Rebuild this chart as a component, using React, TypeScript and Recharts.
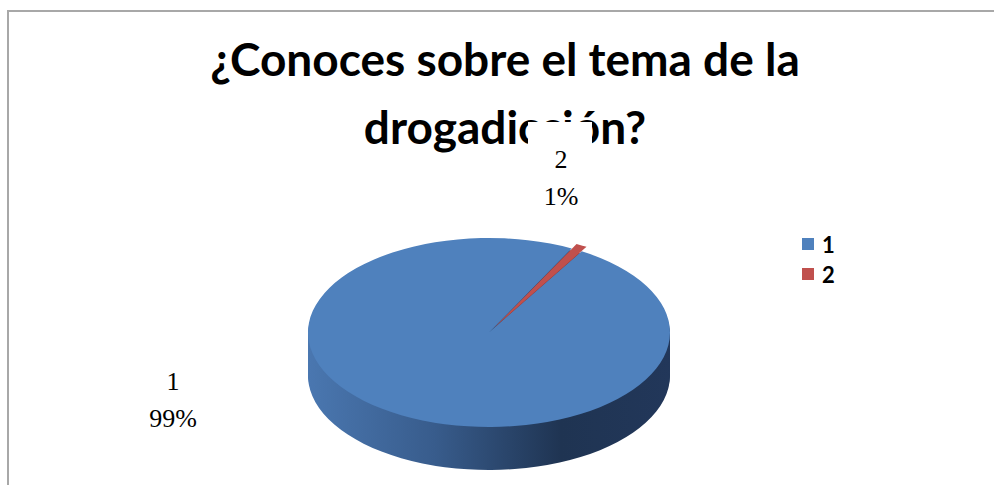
import { PieChart, Pie, Cell, Legend } from "recharts"

const categories = ["1", "2"]
const percentages = [99, 1]
const topColors = ["#4F81BD", "#C0504D"]
const sideColors = ["url(#sideBlue)", "#8C2F2C"]
const titleLines = ["¿Conoces sobre el tema de la", "drogadicción?"]

const data = categories.map((name, i) => ({ name, value: percentages[i] }))

// squashed ellipse geometry (screen px)
const W = 994
const H = 485
const CX = 489
const CY = 332.5
const RX = 181
const RY = 94.5
const DEPTH = 43
const K = RY / RX
const CYU = CY / K
const HU = H / K
const DEPTHU = DEPTH / K
const START = 59.2
const LAYERS = 18
const EXPLODE = 10
const NO_MARGIN = { top: 0, right: 0, bottom: 0, left: 0 }

const midRed = ((START + 3.6 / 2) * Math.PI) / 180

const labelLayout = [
  { dx: -316, dy: 57.5 },
  { dx: 72, dy: -164.5 },
]

const renderLabel = (props: any) => {
  const { cx, cy, index } = props
  const l = labelLayout[index]
  const x = cx + l.dx
  const y = cy + l.dy
  return (
    <g key={`lbl-${index}`}>
      {index === 1 && <rect x={x - 33} y={y - 46} width={64} height={90} fill="#ffffff" />}
      <text x={x} y={y} textAnchor="middle" fontFamily="'Liberation Serif', serif" fontSize={26} fill="#000">
        <tspan x={x} y={y}>{categories[index]}</tspan>
        <tspan x={x} y={y + 37}>{`${percentages[index]}%`}</tspan>
      </text>
    </g>
  )
}

const renderLegend = () => (
  <div style={{ fontFamily: "Lato, sans-serif", fontWeight: 700, fontSize: 22, color: "#000" }}>
    {categories.map((c, i) => (
      <div key={c} style={{ display: "flex", alignItems: "center", height: 30 }}>
        <span style={{ display: "inline-block", width: 12, height: 12, background: topColors[i], marginRight: 8 }} />
        <span>{c}</span>
      </div>
    ))}
  </div>
)

export default function App() {
  const layers = Array.from({ length: LAYERS }, (_, j) => LAYERS - j)
  return (
    <div style={{ position: "absolute", left: 0, top: 0, width: W, height: H, background: "#fff", overflow: "hidden" }}>
      {/* chart frame */}
      <div
        style={{
          position: "absolute",
          left: 7,
          top: 10,
          right: -4,
          bottom: -4,
          borderTop: "2px solid #A8A8A8",
          borderLeft: "2px solid #A8A8A8",
        }}
      />

      {/* 3d pie: drawn tall, then squashed */}
      <div style={{ position: "absolute", left: 0, top: 0, transform: `scaleY(${K})`, transformOrigin: "0 0" }}>
        <PieChart width={W} height={HU} margin={NO_MARGIN}>
          <defs>
            <linearGradient id="sideBlue" x1="0" y1="0" x2="1" y2="0">
              <stop offset="0%" stopColor="#4A77B0" />
              <stop offset="35%" stopColor="#385C8C" />
              <stop offset="70%" stopColor="#1F3452" />
              <stop offset="100%" stopColor="#22375A" />
            </linearGradient>
          </defs>
          {layers.map((j) => (
            <Pie
              key={`side-${j}`}
              data={data}
              dataKey="value"
              cx={CX}
              cy={CYU + (DEPTHU * j) / LAYERS}
              outerRadius={RX}
              startAngle={START}
              endAngle={START - 360}
              stroke="none"
              isAnimationActive={false}
              legendType="none"
            >
              {data.map((d, i) => (
                <Cell key={d.name} fill={sideColors[i]} />
              ))}
            </Pie>
          ))}
          <Pie
            data={data}
            dataKey="value"
            cx={CX}
            cy={CYU}
            outerRadius={RX}
            startAngle={START}
            endAngle={START - 360}
            stroke="none"
            isAnimationActive={false}
            legendType="none"
          >
            {data.map((d, i) => (
              <Cell key={d.name} fill={i === 1 ? "transparent" : topColors[i]} />
            ))}
          </Pie>
          {/* exploded slice 2 */}
          <Pie
            data={data}
            dataKey="value"
            cx={CX + EXPLODE * Math.cos(midRed)}
            cy={CYU - EXPLODE * Math.sin(midRed)}
            outerRadius={RX}
            startAngle={START}
            endAngle={START - 360}
            stroke="none"
            isAnimationActive={false}
            legendType="none"
          >
            {data.map((d, i) => (
              <Cell key={d.name} fill={i === 1 ? topColors[i] : "transparent"} />
            ))}
          </Pie>
        </PieChart>
      </div>

      {/* title */}
      <div
        style={{
          position: "absolute",
          left: 0,
          top: 25,
          width: 1010,
          textAlign: "center",
          fontFamily: "Lato, sans-serif",
          fontWeight: 700,
          fontSize: 46,
          lineHeight: "68px",
          color: "#000",
        }}
      >
        {titleLines.map((t) => (
          <div key={t}>{t}</div>
        ))}
      </div>

      {/* labels and legend */}
      <div style={{ position: "absolute", left: 0, top: 0 }}>
        <PieChart width={W} height={H} margin={NO_MARGIN}>
          <Pie
            data={data}
            dataKey="value"
            cx={CX}
            cy={CY}
            outerRadius={RX}
            startAngle={START}
            endAngle={START - 360}
            fillOpacity={0}
            stroke="none"
            label={renderLabel}
            labelLine={false}
            isAnimationActive={false}
          >
            {data.map((d, i) => (
              <Cell key={d.name} fill={topColors[i]} />
            ))}
          </Pie>
          <Legend
            content={renderLegend}
            layout="vertical"
            align="right"
            verticalAlign="top"
            wrapperStyle={{ left: 802, right: "auto", top: 229, width: 80 }}
          />
        </PieChart>
      </div>
    </div>
  )
}
